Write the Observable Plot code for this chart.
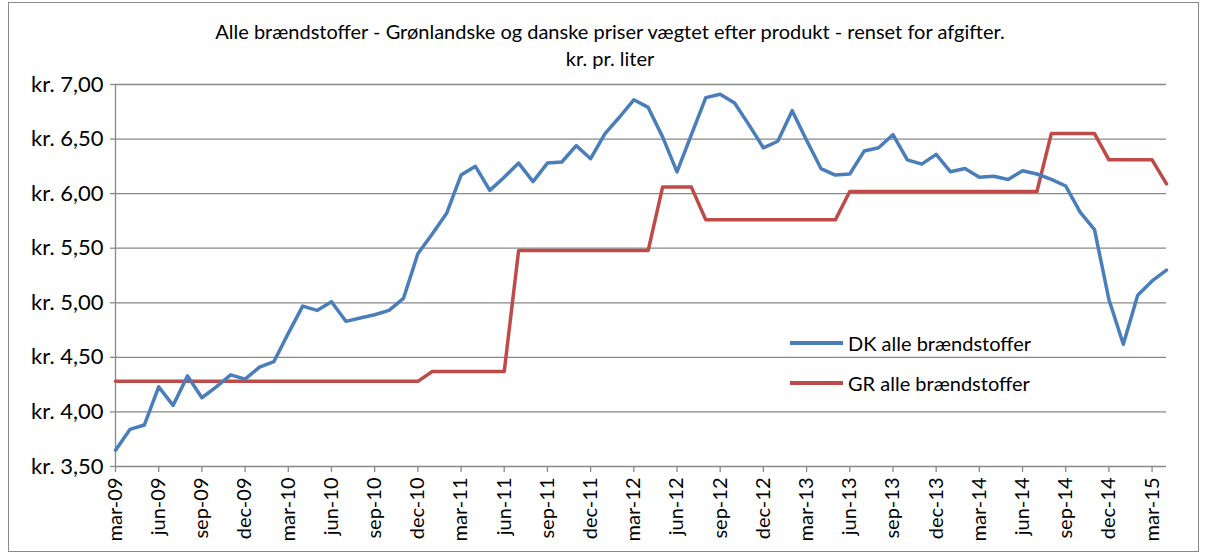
<!DOCTYPE html>
<html>
<head>
<meta charset="utf-8">
<script src="https://cdn.jsdelivr.net/npm/d3@7"></script>
<script src="https://cdn.jsdelivr.net/npm/@observablehq/plot@0.6"></script>
<style>
  html, body { margin: 0; padding: 0; background: #fff; }
  #wrap { position: relative; width: 1208px; height: 556px; overflow: hidden; font-family: Lato, "Open Sans", sans-serif; color: #000; }
  #frame { position: absolute; left: 8px; top: 2px; width: 1191px; height: 550px; border: 1px solid #8a8a8a; box-sizing: border-box; pointer-events: none; }
  #title { position: absolute; left: 14px; width: 1192px; top: 18px; text-align: center; font-size: 20px; line-height: 27px; }
  #chart { position: absolute; left: 0; top: 0; }
  .leg { position: absolute; left: 790px; font-size: 20px; display: flex; align-items: center; }
  .leg .sw { width: 53px; height: 4px; margin-right: 5px; }
</style>
</head>
<body>
<div id="wrap">
  <div id="chart"></div>
  <div id="title">Alle brændstoffer - Grønlandske og danske priser vægtet efter produkt - renset for afgifter.<br>kr. pr. liter</div>
  <div class="leg" style="top:331px"><div class="sw" style="background:#4A7EBB"></div><span>DK alle brændstoffer</span></div>
  <div class="leg" style="top:371px"><div class="sw" style="background:#BE4B48"></div><span>GR alle brændstoffer</span></div>
  <div id="frame"></div>
</div>
<script>
const months = [
  "mar-09","apr-09","maj-09","jun-09","jul-09","aug-09","sep-09","okt-09","nov-09","dec-09",
  "jan-10","feb-10","mar-10","apr-10","maj-10","jun-10","jul-10","aug-10","sep-10","okt-10","nov-10","dec-10",
  "jan-11","feb-11","mar-11","apr-11","maj-11","jun-11","jul-11","aug-11","sep-11","okt-11","nov-11","dec-11",
  "jan-12","feb-12","mar-12","apr-12","maj-12","jun-12","jul-12","aug-12","sep-12","okt-12","nov-12","dec-12",
  "jan-13","feb-13","mar-13","apr-13","maj-13","jun-13","jul-13","aug-13","sep-13","okt-13","nov-13","dec-13",
  "jan-14","feb-14","mar-14","apr-14","maj-14","jun-14","jul-14","aug-14","sep-14","okt-14","nov-14","dec-14",
  "jan-15","feb-15","mar-15","apr-15"
];
const dkValues = [
  3.65,3.84,3.88,4.23,4.06,4.33,4.13,4.23,4.34,4.30,
  4.41,4.46,4.72,4.97,4.93,5.01,4.83,4.86,4.89,4.93,5.04,5.45,
  5.63,5.82,6.17,6.25,6.03,6.15,6.28,6.11,6.28,6.29,6.44,6.32,
  6.55,6.70,6.86,6.79,6.52,6.20,6.54,6.88,6.91,6.83,6.63,6.42,
  6.48,6.76,6.49,6.23,6.17,6.18,6.39,6.42,6.54,6.31,6.27,6.36,
  6.20,6.23,6.15,6.16,6.13,6.21,6.18,6.13,6.07,5.83,5.67,5.03,
  4.62,5.07,5.20,5.30
];
const grValues = [
  4.28,4.28,4.28,4.28,4.28,4.28,4.28,4.28,4.28,4.28,
  4.28,4.28,4.28,4.28,4.28,4.28,4.28,4.28,4.28,4.28,4.28,4.28,
  4.37,4.37,4.37,4.37,4.37,4.37,5.48,5.48,5.48,5.48,5.48,5.48,
  5.48,5.48,5.48,5.48,6.06,6.06,6.06,5.76,5.76,5.76,5.76,5.76,
  5.76,5.76,5.76,5.76,5.76,6.02,6.02,6.02,6.02,6.02,6.02,6.02,
  6.02,6.02,6.02,6.02,6.02,6.02,6.02,6.55,6.55,6.55,6.55,6.31,
  6.31,6.31,6.31,6.09
];
const xTickLabels = ["mar-09","jun-09","sep-09","dec-09","mar-10","jun-10","sep-10","dec-10",
  "mar-11","jun-11","sep-11","dec-11","mar-12","jun-12","sep-12","dec-12","mar-13","jun-13",
  "sep-13","dec-13","mar-14","jun-14","sep-14","dec-14","mar-15"];
const yTicks = [3.5,4.0,4.5,5.0,5.5,6.0,6.5,7.0];

const dk = dkValues.map((v, i) => ({i, v}));
const gr = grValues.map((v, i) => ({i, v}));
const xTicks = xTickLabels.map(l => months.indexOf(l));
const grid = "#888888";

const chart = Plot.plot({
  width: 1208, height: 556,
  marginLeft: 115, marginRight: 42, marginTop: 84, marginBottom: 90,
  x: {domain: [0, months.length - 1]},
  y: {domain: [3.5, 7.0]},
  style: {fontFamily: "Lato, 'Open Sans', sans-serif", fontSize: "20px", color: "#000", background: "transparent"},
  marks: [
    Plot.gridY(yTicks, {stroke: grid, strokeOpacity: 1, strokeWidth: 1.3}),
    Plot.ruleX([0], {stroke: grid, strokeWidth: 1.3}),
    Plot.axisY(yTicks, {tickFormat: d => "kr. " + d.toFixed(2).replace(".", ","), tickSize: 5, tickPadding: 7, stroke: grid, strokeWidth: 1.3, fontSize: 22, label: null}),
    Plot.axisX(xTicks, {tickFormat: i => months[i], tickRotate: -90, tickSize: 6, tickPadding: 5, stroke: grid, strokeWidth: 1.3, fontSize: 20, label: null}),
    Plot.line(gr, {x: "i", y: "v", stroke: "#BE4B48", strokeWidth: 3.5, strokeLinejoin: "round"}),
    Plot.line(dk, {x: "i", y: "v", stroke: "#4A7EBB", strokeWidth: 3.5, strokeLinejoin: "round"})
  ]
});
document.getElementById("chart").appendChild(chart);
</script>
</body>
</html>
